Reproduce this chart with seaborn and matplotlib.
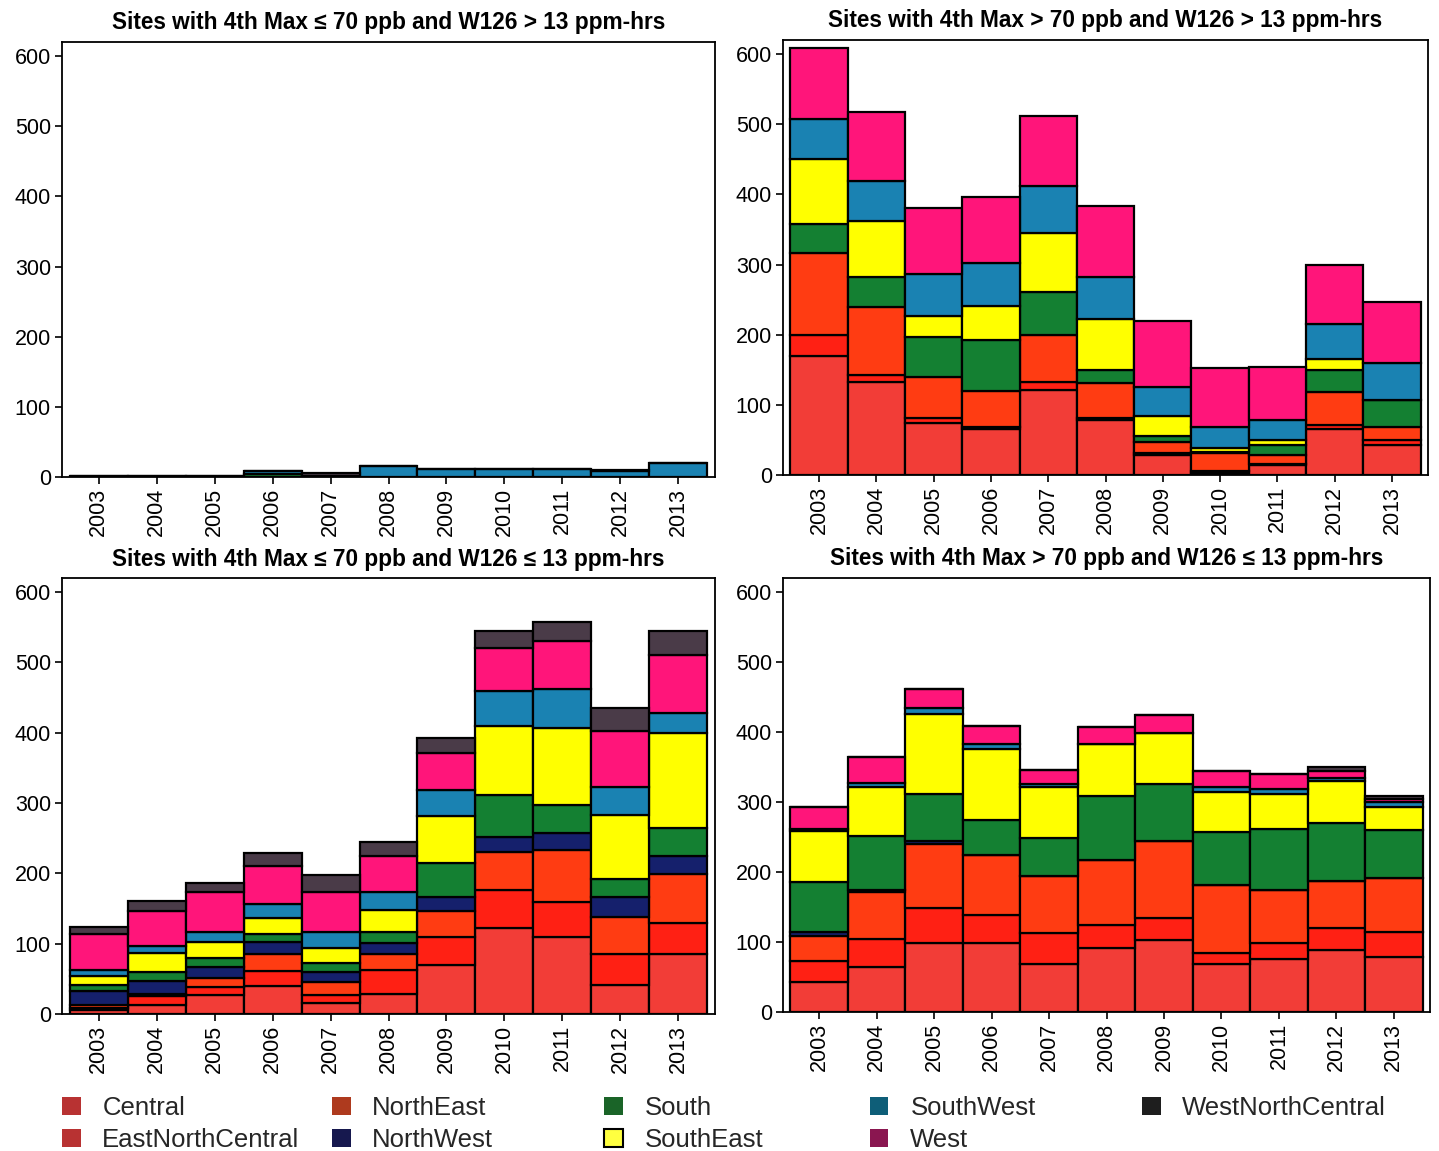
import numpy as np
import pandas as pd
import matplotlib
matplotlib.use("Agg")
import matplotlib.pyplot as plt
from matplotlib.patches import Patch
import seaborn as sns

years = list(range(2003, 2014))
regions = ["Central", "EastNorthCentral", "NorthEast", "NorthWest", "South",
           "SouthEast", "SouthWest", "West", "WestNorthCentral"]

# Site counts per climate region (stacked bottom -> top in the order above)
low_high = {  # 4th Max <= 70 ppb and W126 > 13 ppm-hrs
    "Central":          [0, 0, 0, 0, 0, 0, 0, 0, 0, 0, 0],
    "EastNorthCentral": [0, 0, 0, 0, 0, 0, 0, 0, 0, 0, 0],
    "NorthEast":        [0, 0, 0, 0, 0, 0, 0, 0, 0, 0, 0],
    "NorthWest":        [0, 0, 0, 0, 0, 0, 0, 0, 0, 0, 0],
    "South":            [0, 0, 0, 4, 0, 0, 0, 0, 0, 0, 0],
    "SouthEast":        [0, 0, 0, 0, 0, 0, 0, 0, 0, 0, 0],
    "SouthWest":        [2, 2, 2, 5, 2, 15, 12, 12, 12, 8, 20],
    "West":             [0, 0, 0, 0, 0, 0, 0, 0, 0, 0, 0],
    "WestNorthCentral": [0, 0, 0, 0, 3, 0, 0, 0, 0, 2, 0],
}
high_high = {  # 4th Max > 70 ppb and W126 > 13 ppm-hrs
    "Central":          [169, 132, 74, 66, 121, 79, 28, 3, 14, 66, 43],
    "EastNorthCentral": [30, 10, 7, 3, 11, 2, 4, 2, 2, 5, 7],
    "NorthEast":        [117, 98, 58, 51, 67, 50, 15, 26, 12, 47, 19],
    "NorthWest":        [0, 0, 0, 0, 0, 0, 0, 0, 0, 0, 0],
    "South":            [42, 42, 58, 72, 62, 19, 8, 2, 15, 32, 38],
    "SouthEast":        [92, 80, 29, 49, 84, 72, 29, 5, 7, 15, 0],
    "SouthWest":        [57, 57, 60, 61, 67, 60, 42, 31, 29, 50, 53],
    "West":             [101, 99, 94, 94, 99, 101, 93, 83, 75, 85, 87],
    "WestNorthCentral": [0, 0, 0, 0, 0, 0, 0, 0, 0, 0, 0],
}
low_low = {  # 4th Max <= 70 ppb and W126 <= 13 ppm-hrs
    "Central":          [5, 13, 27, 40, 16, 28, 70, 122, 109, 41, 86],
    "EastNorthCentral": [4, 13, 11, 21, 11, 34, 40, 54, 50, 45, 43],
    "NorthEast":        [4, 2, 13, 24, 18, 23, 36, 55, 74, 52, 70],
    "NorthWest":        [19, 19, 16, 18, 15, 16, 21, 20, 24, 29, 26],
    "South":            [9, 13, 12, 11, 12, 16, 48, 61, 40, 25, 39],
    "SouthEast":        [13, 27, 24, 22, 22, 31, 67, 97, 110, 91, 136],
    "SouthWest":        [8, 10, 14, 21, 22, 26, 37, 51, 55, 40, 28],
    "West":             [52, 50, 56, 53, 58, 50, 52, 61, 68, 79, 82],
    "WestNorthCentral": [10, 14, 13, 19, 23, 21, 22, 23, 27, 33, 35],
}
high_low = {  # 4th Max > 70 ppb and W126 <= 13 ppm-hrs
    "Central":          [43, 65, 98, 98, 68, 91, 103, 69, 76, 89, 79],
    "EastNorthCentral": [30, 40, 50, 40, 45, 34, 31, 16, 22, 31, 35],
    "NorthEast":        [35, 66, 92, 87, 82, 92, 110, 96, 77, 67, 77],
    "NorthWest":        [7, 3, 4, 0, 0, 0, 0, 0, 0, 0, 0],
    "South":            [71, 77, 67, 49, 54, 92, 82, 76, 87, 83, 69],
    "SouthEast":        [72, 70, 115, 102, 73, 74, 72, 58, 49, 60, 33],
    "SouthWest":        [4, 6, 8, 7, 4, 0, 0, 6, 7, 4, 7],
    "West":             [31, 38, 28, 25, 20, 24, 27, 24, 22, 11, 4],
    "WestNorthCentral": [0, 0, 0, 0, 0, 0, 0, 0, 0, 5, 5],
}

titles = [
    "Sites with 4th Max \u2264 70 ppb and W126 > 13 ppm-hrs",
    "Sites with 4th Max > 70 ppb and W126 > 13 ppm-hrs",
    "Sites with 4th Max \u2264 70 ppb and W126 \u2264 13 ppm-hrs",
    "Sites with 4th Max > 70 ppb and W126 \u2264 13 ppm-hrs",
]

bar_colors = {
    "Central": "#F23D37",
    "EastNorthCentral": "#FF2014",
    "NorthEast": "#FF3C12",
    "NorthWest": "#15206C",
    "South": "#148032",
    "SouthEast": "#FFFF00",
    "SouthWest": "#1A82B2",
    "West": "#FF157A",
    "WestNorthCentral": "#4A3B48",
}
key_colors = {
    "Central": "#B83232",
    "EastNorthCentral": "#B83232",
    "NorthEast": "#AE3A1E",
    "NorthWest": "#16184E",
    "South": "#1A6428",
    "SouthEast": "#FFFF40",
    "SouthWest": "#0E5E78",
    "West": "#8A1650",
    "WestNorthCentral": "#1E1E1E",
}


def to_long(table):
    rows = []
    for reg in regions:
        for yr, n in zip(years, table[reg]):
            if n > 0:
                rows.append({"year": yr, "region": reg, "sites": n})
    return pd.DataFrame(rows)


sns.set_theme(style="ticks")
plt.rcParams["font.family"] = ["Liberation Sans", "DejaVu Sans"]

W, H = 1439, 1151
fig = plt.figure(figsize=(W / 100, H / 100), dpi=100)

# axes boxes in pixels: left, top, right, bottom
boxes = [(62, 42, 715, 477), (783, 40, 1428, 475),
         (62, 578, 715, 1014), (783, 578, 1430, 1012)]
tables = [low_high, high_high, low_low, high_low]

for box, table, title in zip(boxes, tables, titles):
    l, t, r, b = box
    ax = fig.add_axes([l / W, 1 - b / H, (r - l) / W, (b - t) / H])
    df = to_long(table)
    present = [reg for reg in regions if reg in set(df["region"])]
    sns.histplot(
        data=df, x="year", hue="region", weights="sites",
        hue_order=present[::-1], palette=bar_colors,
        multiple="stack", discrete=True, shrink=1.0,
        alpha=1.0, edgecolor="black", linewidth=1.6,
        legend=False, ax=ax,
    )
    ax.set_xlim(years[0] - 0.63, years[-1] + 0.63)
    ax.set_ylim(0, 620)
    ax.set_xticks(years)
    ax.set_xticklabels([str(y) for y in years], rotation=90, fontsize=15.5)
    ax.set_yticks(range(0, 601, 100))
    ax.set_yticklabels([str(v) for v in range(0, 601, 100)], fontsize=15.5)
    ax.tick_params(axis="both", direction="out", length=5, width=1.2,
                   color="black", pad=3, labelcolor="black")
    for sp in ax.spines.values():
        sp.set_visible(True)
        sp.set_color("black")
        sp.set_linewidth(1.3)
    ax.set_xlabel("")
    ax.set_ylabel("")
    ax.set_title(title, fontsize=16.3, fontweight="bold", pad=9, color="black")

# Region key along the bottom, five columns of two rows
columns = [
    (62, ["Central", "EastNorthCentral"]),
    (332, ["NorthEast", "NorthWest"]),
    (604, ["South", "SouthEast"]),
    (870, ["SouthWest", "West"]),
    (1142, ["WestNorthCentral"]),
]
for x0, names in columns:
    handles = []
    for nm in names:
        ec = "black" if nm == "SouthEast" else "none"
        handles.append(Patch(facecolor=key_colors[nm], edgecolor=ec,
                             linewidth=1.5, label=nm))
    fig.legend(handles=handles, loc="upper left",
               bbox_to_anchor=(x0 / W, 1 - 1096 / H),
               frameon=False, fontsize=18.5, borderpad=0, borderaxespad=0,
               handlelength=0.72, handleheight=0.72, handletextpad=0.85,
               labelspacing=0.3)

fig.savefig("out.png", dpi=100)
